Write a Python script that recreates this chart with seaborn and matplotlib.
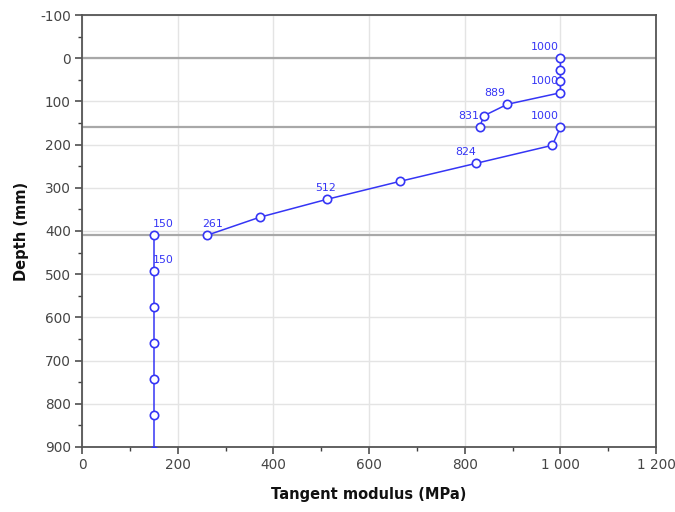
import numpy as np
import pandas as pd
import matplotlib
matplotlib.use("Agg")
import matplotlib.pyplot as plt
from matplotlib.ticker import MultipleLocator, FuncFormatter
import seaborn as sns

# Tangent modulus profile, one list per pavement layer
layer_names = ["Layer 1", "Layer 2", "Layer 3"]
depth_layer1 = [0, 26.7, 53.3, 80, 106.7, 133.3, 160]
modulus_layer1 = [1000, 1000, 1000, 1000, 889, 840, 831]
depth_layer2 = [160, 201.7, 243.3, 285, 326.7, 368.3, 410]
modulus_layer2 = [1000, 983, 824, 665, 512, 371, 261]
depth_layer3 = [410, 493.3, 576.7, 660, 743.3, 826.7, 910]
modulus_layer3 = [150, 150, 150, 150, 150, 150, 150]

# Points that carry a value label (layer index, point index)
labelled_points = [(0, 0), (0, 3), (0, 4), (0, 6),
                   (1, 0), (1, 2), (1, 4), (1, 6),
                   (2, 0), (2, 1)]

# Layer boundaries (mm)
boundaries = [0, 160, 410]

x_ticks = [0, 200, 400, 600, 800, 1000, 1200]
y_ticks = [-100, 0, 100, 200, 300, 400, 500, 600, 700, 800, 900]

depths = [depth_layer1, depth_layer2, depth_layer3]
moduli = [modulus_layer1, modulus_layer2, modulus_layer3]
df = pd.concat(
    [pd.DataFrame({"layer": name, "depth": d, "modulus": m})
     for name, d, m in zip(layer_names, depths, moduli)],
    ignore_index=True,
)

sns.set_theme(style="white")
plt.rcParams["font.family"] = ["DejaVu Sans"]

blue = "#3535f5"
fig = plt.figure(figsize=(6.75, 5.12), dpi=100)
ax = fig.add_axes([0.1215, 0.127, 0.8505, 0.8437])

# grid first, then layer boundaries, then the profile
ax.set_axisbelow(True)
ax.grid(True, which="major", color="#e4e4e4", linewidth=1.0)
for b in boundaries:
    ax.axhline(b, color="#a8a8a8", linewidth=1.6, zorder=1.5)

sns.lineplot(
    data=df, x="modulus", y="depth", units="layer", estimator=None,
    sort=False, color=blue, linewidth=1.1, marker="o", markersize=6,
    markerfacecolor="white", markeredgecolor=blue, markeredgewidth=1.2,
    ax=ax, legend=False, zorder=3,
)

for li, pi in labelled_points:
    xv = moduli[li][pi]
    yv = depths[li][pi]
    dx = (14 - 0.03 * xv) * 0.72
    ax.annotate(f"{xv:g}", (xv, yv), xytext=(dx, 8.2), textcoords="offset points",
                ha="center", va="center", color=blue, fontsize=7.9, zorder=4)

ax.set_xlim(0, 1200)
ax.set_ylim(900, -100)
ax.set_xticks(x_ticks)
ax.set_yticks(y_ticks)
ax.xaxis.set_minor_locator(MultipleLocator(100))
ax.yaxis.set_minor_locator(MultipleLocator(50))
ax.xaxis.set_major_formatter(FuncFormatter(lambda v, p: f"{int(v):,}".replace(",", " ")))
ax.yaxis.set_major_formatter(FuncFormatter(lambda v, p: f"{int(v)}"))

ax.tick_params(axis="both", which="major", direction="out", length=5, width=1.1,
               color="#404040", labelsize=9.8, labelcolor="#454545", pad=3,
               left=True, bottom=True)
ax.tick_params(axis="both", which="minor", direction="out", length=3, width=1.0,
               color="#404040", left=True, bottom=True)

for side in ["left", "bottom", "right", "top"]:
    ax.spines[side].set_visible(True)
    ax.spines[side].set_color("#555555")
    ax.spines[side].set_linewidth(1.3)

ax.set_xlabel("Tangent modulus (MPa)", fontsize=10.5, fontweight="bold", color="#111111", labelpad=11)
ax.set_ylabel("Depth (mm)", fontsize=10.5, fontweight="bold", color="#111111", labelpad=8)

fig.savefig("out.png", dpi=100, facecolor="white")
